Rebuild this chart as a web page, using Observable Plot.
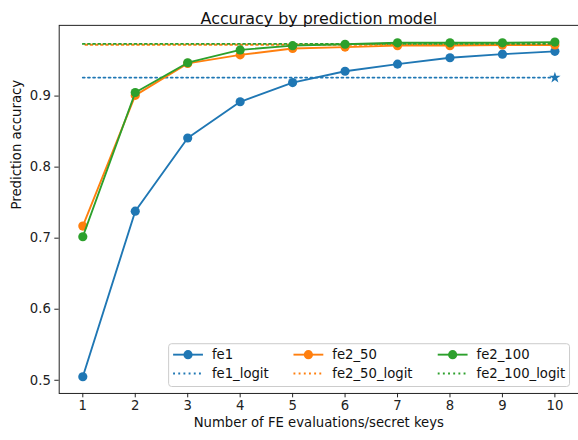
<!DOCTYPE html>
<html>
<head>
<meta charset="utf-8">
<script src="https://cdn.jsdelivr.net/npm/d3@7"></script>
<script src="https://cdn.jsdelivr.net/npm/@observablehq/plot@0.6"></script>
<style>
  html, body { margin: 0; padding: 0; background: #fff; overflow: hidden; }
  #chart { width: 578px; height: 440px; overflow: hidden; }
  svg { font-family: "DejaVu Sans", sans-serif; }
</style>
</head>
<body>
<div id="chart"></div>
<script>
// ---- data ----
const evaluations = [1, 2, 3, 4, 5, 6, 7, 8, 9, 10];
const fe1 = [0.505, 0.738, 0.841, 0.892, 0.919, 0.935, 0.945, 0.954, 0.959, 0.963];
const fe2_50 = [0.717, 0.901, 0.946, 0.958, 0.967, 0.969, 0.971, 0.971, 0.972, 0.972];
const fe2_100 = [0.702, 0.905, 0.947, 0.965, 0.971, 0.973, 0.975, 0.975, 0.975, 0.976];
const logitNames = ["fe1_logit", "fe2_50_logit", "fe2_100_logit"];
const logitValues = [0.926, 0.9722, 0.9735];
const seriesNames = ["fe1", "fe2_50", "fe2_100"];
const seriesColors = ["#1f77b4", "#ff7f0e", "#2ca02c"];
const xTicks = [1, 2, 3, 4, 5, 6, 7, 8, 9, 10];
const yTicks = [0.5, 0.6, 0.7, 0.8, 0.9];
const titleText = "Accuracy by prediction model";
const xLabel = "Number of FE evaluations/secret keys";
const yLabel = "Prediction accuracy";

const seriesValues = [fe1, fe2_50, fe2_100];
const lineRows = seriesNames.flatMap((s, i) =>
  evaluations.map((x, j) => ({series: s, x, y: seriesValues[i][j]})));
const logitRows = logitNames.flatMap((s, i) =>
  [evaluations[0], evaluations[evaluations.length - 1]].map(x => ({series: s, x, y: logitValues[i]})));

const allY = [...fe1, ...fe2_50, ...fe2_100, ...logitValues];
const yMin = d3.min(allY), yMax = d3.max(allY);
const yPad = (yMax - yMin) * 0.05;
const xMin = d3.min(evaluations), xMax = d3.max(evaluations);
const xPad = (xMax - xMin) * 0.05;

const dash = "1.9,3.3";
const dashOffsets = [0, 2.6, 0];
const marks = [];
seriesNames.forEach((s, i) => {
  const rows = lineRows.filter(d => d.series === s);
  marks.push(Plot.line(rows, {x: "x", y: "y", stroke: seriesColors[i], strokeWidth: 1.9}));
  marks.push(Plot.dot(rows, {x: "x", y: "y", r: 4.6, fill: seriesColors[i], stroke: "none"}));
  const lrows = logitRows.filter(d => d.series === logitNames[i]);
  marks.push(Plot.line(lrows, {x: "x", y: "y", stroke: seriesColors[i], strokeWidth: 1.9, strokeDasharray: dash, strokeDashoffset: dashOffsets[i]}));
  if (i === 0) {
    marks.push(Plot.dot(lrows.slice(-1), {x: "x", y: "y", symbol: "star", r: 3.6, fill: seriesColors[i], stroke: "none"}));
  }
});

const FS = 13.3;
const plot = Plot.plot({
  width: 581,
  height: 440,
  marginLeft: 59,
  marginRight: 0,
  marginTop: 25,
  marginBottom: 45,
  style: {fontFamily: "DejaVu Sans, sans-serif", background: "white"},
  x: {domain: [xMin - xPad, xMax + xPad]},
  y: {domain: [yMin - yPad, yMax + yPad]},
  marks: [
    ...marks,
    Plot.frame({stroke: "#222", strokeWidth: 1}),
    Plot.axisX(xTicks, {tickSize: 4.4, tickPadding: 3, fontSize: FS, fill: "#222", stroke: "#222", label: null, tickFormat: d => String(d)}),
    Plot.axisY(yTicks, {tickSize: 4.4, tickPadding: 4, fontSize: FS, fill: "#222", stroke: "#222", label: null, tickFormat: d3.format(".1f")}),
    Plot.text([titleText], {frameAnchor: "top", dy: -13, fontSize: 16, fill: "#111"}),
    Plot.text([xLabel], {frameAnchor: "bottom", dy: 34, fontSize: FS, fill: "#111"}),
    Plot.text([yLabel], {frameAnchor: "left", dx: -43, rotate: -90, fontSize: FS, fill: "#111"})
  ]
});
document.getElementById("chart").appendChild(plot);

// ---- legend (matplotlib-style, 3 columns, column-major) ----
const svg = d3.select(plot);
const lg = svg.append("g").attr("font-family", "DejaVu Sans, sans-serif")
  .attr("font-size", FS).attr("text-anchor", "start");
lg.append("rect").attr("x", 169.5).attr("y", 345.5).attr("width", 403).attr("height", 43)
  .attr("rx", 3).attr("fill", "white").attr("fill-opacity", 0.8).attr("stroke", "#ccc");
const colX = [174, 295, 440];
const rowY = [356.5, 375.5];
seriesNames.forEach((s, i) => {
  const x0 = colX[i];
  lg.append("line").attr("x1", x0).attr("x2", x0 + 30).attr("y1", rowY[0]).attr("y2", rowY[0])
    .attr("stroke", seriesColors[i]).attr("stroke-width", 1.9);
  lg.append("circle").attr("cx", x0 + 15).attr("cy", rowY[0]).attr("r", 4.6).attr("fill", seriesColors[i]);
  lg.append("text").attr("x", x0 + 39).attr("y", rowY[0]).attr("dy", "0.35em").attr("fill", "#111")
    .style("text-anchor", "start").text(s);
  lg.append("line").attr("x1", x0).attr("x2", x0 + 30).attr("y1", rowY[1]).attr("y2", rowY[1])
    .attr("stroke", seriesColors[i]).attr("stroke-width", 1.9).attr("stroke-dasharray", dash);
  lg.append("text").attr("x", x0 + 39).attr("y", rowY[1]).attr("dy", "0.35em").attr("fill", "#111")
    .style("text-anchor", "start").text(logitNames[i]);
});
</script>
</body>
</html>
